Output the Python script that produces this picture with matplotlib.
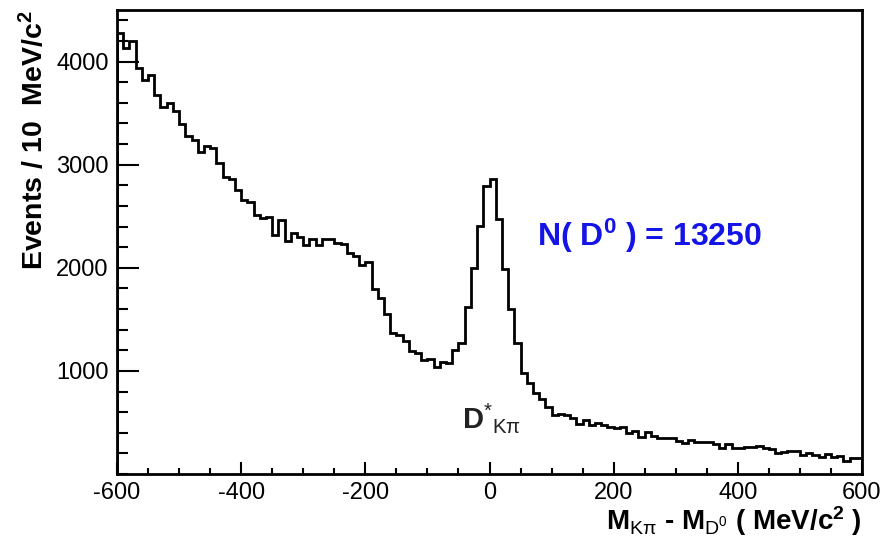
import numpy as np
import matplotlib
matplotlib.use("Agg")
from matplotlib import pyplot as plt
from matplotlib.ticker import MultipleLocator

plt.rcParams['font.family'] = ['Liberation Sans', 'DejaVu Sans']
plt.rcParams['mathtext.fontset'] = 'custom'
plt.rcParams['mathtext.rm'] = 'Liberation Sans'
plt.rcParams['mathtext.it'] = 'Liberation Sans'
plt.rcParams['mathtext.bf'] = 'Liberation Sans:bold'
plt.rcParams['axes.unicode_minus'] = False

# M(Kpi) - M(D0) in MeV/c^2, 10 MeV bins
bin_edges = np.arange(-600, 610, 10)
events = [
	4278, 4130, 4197, 3940, 3825, 3874, 3680, 3557, 3599, 3524,
	3395, 3275, 3243, 3123, 3178, 3162, 3016, 2877, 2864, 2757,
	2660, 2634, 2508, 2482, 2492, 2320, 2466, 2256, 2337, 2298,
	2223, 2278, 2223, 2278, 2278, 2240, 2230, 2142, 2117, 2029,
	2052, 1793, 1706, 1553, 1372, 1350, 1294, 1197, 1178, 1107,
	1113, 1042, 1091, 1081, 1204, 1275, 1618, 1997, 2408, 2796,
	2861, 2473, 1987, 1599, 1275, 984, 880, 789, 725, 654,
	573, 583, 573, 540, 485, 524, 476, 492, 476, 453,
	443, 460, 401, 421, 356, 405, 369, 346, 346, 353,
	324, 304, 330, 314, 314, 307, 288, 256, 288, 256,
	256, 262, 265, 275, 256, 243, 201, 210, 223, 223,
	184, 207, 184, 168, 191, 168, 178, 126, 158, 152,
]
yield_label = "N( D$^{\\mathbf{0}}$ ) = 13250"
peak_label = "D$^{*}$$_{\\mathrm{K}\\pi}$"

fig = plt.figure(figsize=(8.82, 5.41), dpi=100)
ax = fig.add_axes([0.1327, 0.1238, 0.8446, 0.8577])

ax.stairs(events, bin_edges, color='black', linewidth=2.0)

ax.set_xlim(-600, 600)
ax.set_ylim(0, 4500)
ax.xaxis.set_major_locator(MultipleLocator(200))
ax.xaxis.set_minor_locator(MultipleLocator(50))
ax.yaxis.set_major_locator(MultipleLocator(1000))
ax.yaxis.set_minor_locator(MultipleLocator(200))
ax.set_yticks([1000, 2000, 3000, 4000])

ax.tick_params(axis='both', which='both', direction='in', width=1.5, labelsize=17)
ax.tick_params(axis='x', which='major', length=9, pad=6)
ax.tick_params(axis='x', which='minor', length=4.5)
ax.tick_params(axis='y', which='major', length=16, pad=6)
ax.tick_params(axis='y', which='minor', length=8)
for s in ax.spines.values():
	s.set_linewidth(2)

ax.set_xlabel("M$_{\\mathrm{K}\\pi}$ - M$_{\\mathrm{D^0}}$ ( MeV/c$^{\\mathbf{2}}$ )",
	fontsize=20, fontweight='bold', loc='right', labelpad=0)
ax.set_ylabel("Events / 10  MeV/c$^{\\mathbf{2}}$", fontsize=20.5, fontweight='bold',
	loc='top', labelpad=5)

ax.text(76, 2213, yield_label, color='#1414e6', fontsize=23, fontweight='bold')
ax.text(-45, 445, peak_label, color='#222222', fontsize=21, fontweight='bold')

plt.savefig("out.png", dpi=100)
